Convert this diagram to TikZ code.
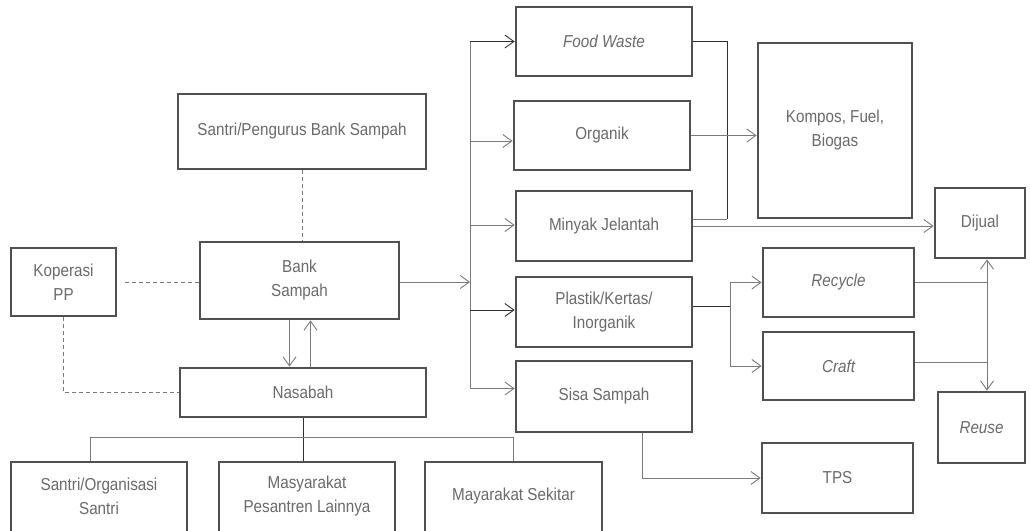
\documentclass[tikz,border=0pt]{standalone}
\usepackage{fontspec}
\setmainfont[FakeStretch=0.88]{Liberation Sans}
\usetikzlibrary{arrows.meta}
\definecolor{boxc}{HTML}{505050}
\definecolor{txtc}{HTML}{6A6A6A}
\definecolor{linec}{HTML}{7A7A7A}
\definecolor{darkl}{HTML}{303030}
\begin{document}
\begin{tikzpicture}[x=1pt,y=-1pt,
  box/.style={draw=boxc,line width=2.8pt,fill=white,text=txtc,align=center,
    inner sep=0pt,font=\fontsize{17.3}{24}\selectfont},
  lbl/.style={text=txtc,align=center,inner sep=0pt,font=\fontsize{17.3}{24}\selectfont},
  conn/.style={draw=linec,line width=0.9pt},
  dconn/.style={draw=darkl,line width=0.9pt},
  dashl/.style={draw=linec,line width=0.9pt,dash pattern=on 4pt off 3pt},
  arr/.style={-{Straight Barb[length=9pt,width=13pt,line width=0.9pt]}},
  darr/.style={{Straight Barb[length=9pt,width=13pt,line width=0.9pt]}-{Straight Barb[length=9pt,width=13pt,line width=0.9pt]}}]
\useasboundingbox[fill=white] (0,0) rectangle (1030,530);

% nodes
\node[box,minimum width=248,minimum height=75] (spbs) at (302,131.5) {Santri/Pengurus Bank Sampah};
\node[box,minimum width=199,minimum height=77] (bank) at (299.5,280.5) {Bank\\Sampah};
\node[box,minimum width=105,minimum height=68] (kop) at (63.5,282) {Koperasi\\PP};
\node[box,minimum width=246,minimum height=49] (nas) at (303,392.5) {Nasabah};
\node[box,minimum width=176,minimum height=76] (so) at (99,500) {};
\node[lbl] (sot) at (99,496) {Santri/Organisasi\\Santri};
\node[box,minimum width=176,minimum height=76] (mpl) at (307,500) {};
\node[lbl] (mplt) at (307,496) {Masyarakat\\Pesantren Lainnya};
\node[box,minimum width=177,minimum height=76] (ms) at (513.5,500) {};
\node[lbl] (mst) at (513.5,496) {Mayarakat Sekitar};

\node[box,minimum width=176,minimum height=69] (fw) at (604,41.5) {\itshape Food Waste};
\node[box,minimum width=176,minimum height=69] (org) at (602,135.5) {Organik};
\node[box,minimum width=176,minimum height=70] (mj) at (604,226) {Minyak Jelantah};
\node[box,minimum width=176,minimum height=70] (pk) at (604,312) {Plastik/Kertas/\\Inorganik};
\node[box,minimum width=176,minimum height=71] (ss) at (604,396.5) {Sisa Sampah};

\node[box,minimum width=154,minimum height=175] (kfb) at (835,130.5) {Kompos, Fuel,\\Biogas};
\node[box,minimum width=90,minimum height=70] (dj) at (980,223) {Dijual};
\node[box,minimum width=151,minimum height=69] (rc) at (838.5,282.5) {\itshape Recycle};
\node[box,minimum width=151,minimum height=68] (cr) at (838.5,366) {\itshape Craft};
\node[box,minimum width=87,minimum height=71] (ru) at (981.5,427.5) {\itshape Reuse};
\node[box,minimum width=151,minimum height=70] (tps) at (837.5,478) {TPS};

% helper coordinates
\coordinate (trunk) at (470,282);
\coordinate (jn) at (727,219);
\coordinate (pkj) at (730,306);
\coordinate (vx) at (987,0);
\coordinate (bus) at (0,437);

% dashed relations
\draw[dashl] (spbs.south) -- (spbs.south |- bank.north);
\draw[dashl] ([xshift=8pt]kop.east) -- (kop.east -| bank.west);
\draw[dashl] (kop.south) |- (nas.west);

% bank <-> nasabah
\draw[conn,arr] ([xshift=-10pt]bank.south) -- ([xshift=-10pt]bank.south |- nas.north);
\draw[conn,arr] ([xshift=7.5pt]nas.north) -- ([xshift=7.5pt]nas.north |- bank.south);

% bank -> trunk -> categories
\draw[conn,arr] (bank.east |- trunk) -- (trunk);
\draw[conn] (fw.west -| trunk) -- ([yshift=8pt]ss.west -| trunk);
\draw[dconn,arr] (fw.west -| trunk) -- (fw.west);
\draw[conn,arr] ([yshift=-5.5pt]org.west -| trunk) -- ([yshift=-5.5pt]org.west);
\draw[conn,arr] ([yshift=1pt]mj.west -| trunk) -- ([yshift=1pt]mj.west);
\draw[dconn,arr] ([yshift=2pt]pk.west -| trunk) -- ([yshift=2pt]pk.west);
\draw[conn,arr] ([yshift=8pt]ss.west -| trunk) -- ([yshift=8pt]ss.west);

% organic group -> compost
\draw[dconn] (fw.east) -| (jn);
\draw[conn] (jn) -- (jn -| mj.east);
\draw[conn,arr] (org.east) -- (org.east -| kfb.west);
\draw[conn,arr] (mj.east) -- (mj.east -| dj.west);

% plastik -> recycle / craft
\draw[dconn] ([yshift=6pt]pk.east) -- (pkj);
\draw[conn,arr] (pkj |- rc.west) -- (rc.west);
\draw[conn] (pkj |- rc.west) -- (pkj |- cr.west);
\draw[conn,arr] (pkj |- cr.west) -- (cr.west);

% recycle / craft -> dijual / reuse
\draw[conn] (rc.east) -- (rc.east -| vx);
\draw[conn] ([yshift=4pt]cr.east) -- ([yshift=4pt]cr.east -| vx);
\draw[conn,darr] (dj.south -| vx) -- (ru.north -| vx);

% sisa -> TPS
\draw[conn,arr] ([xshift=38pt]ss.south) |- (tps.west);

% nasabah -> groups
\draw[dconn] (nas.south) -- (nas.south |- mpl.north);
\draw[conn] ([xshift=-9pt]so.north) |- (ms.north |- bus) -- (ms.north);
\end{tikzpicture}
\end{document}
